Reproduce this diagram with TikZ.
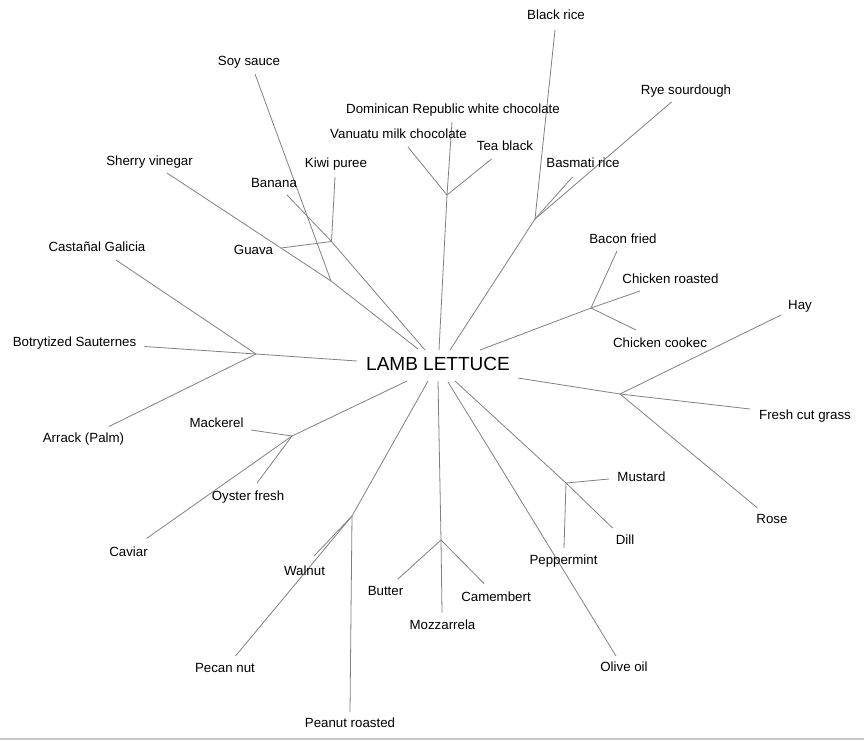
\documentclass[tikz,border=0pt]{standalone}
\usepackage{fontspec}
\setmainfont{Liberation Sans}
\usepackage{tikz}
\tikzset{
	branch/.style={line width=0.8pt, color=black!50},
	food/.style={inner sep=0pt, text height=9.4pt, text depth=0pt, font=\fontsize{13.3}{15}\selectfont},
	rootlabel/.style={inner sep=0pt, text height=13.6pt, text depth=0pt, font=\fontsize{19}{22}\selectfont}
}

\begin{document}
\begin{tikzpicture}[x=1pt, y=-1pt]
			%%%%% START %%%%%
			\useasboundingbox (0, 0) rectangle (864, 740);
			\draw[line width=1.5pt, color=black!22] (0, 739) -- (864, 739);
			
			\node[rootlabel] (lamb) at (438, 364) {LAMB LETTUCE};
			
			% ends round the root label
			\coordinate (rA) at (418, 349);
			\coordinate (rB) at (425, 350);
			\coordinate (rC) at (439, 350);
			\coordinate (rD) at (450, 350);
			\coordinate (rE) at (480, 350);
			\coordinate (rF) at (518, 378);
			\coordinate (rG) at (357, 361);
			\coordinate (rH) at (407, 381);
			\coordinate (rI) at (428, 381);
			\coordinate (rJ) at (438, 381);
			\coordinate (rK) at (448, 382);
			\coordinate (rL) at (455, 381);
			
			% inner forks
			\coordinate (soyfork) at (331, 281);
			\coordinate (fruitfork) at (331.5, 241.5);
			\coordinate (chocfork) at (447, 195);
			\coordinate (ricefork) at (535, 219);
			\coordinate (meatfork) at (591, 308);
			\coordinate (grassfork) at (620, 394);
			\coordinate (winefork) at (256, 354);
			\coordinate (fishfork) at (292, 436);
			\coordinate (nutfork) at (352, 516);
			\coordinate (cheesefork) at (441, 540);
			\coordinate (oilfork) at (493, 455);
			\coordinate (herbfork) at (566, 483);
			
			% free ends of the leaves
			\coordinate (soy) at (255, 74);
			\coordinate (sherry) at (167, 173);
			\coordinate (banana) at (287, 195);
			\coordinate (kiwi) at (335, 177);
			\coordinate (guava) at (281, 248);
			\coordinate (dominican) at (452, 122);
			\coordinate (vanuatu) at (408, 147);
			\coordinate (tea) at (491.5, 159);
			\coordinate (blackrice) at (555, 30);
			\coordinate (basmati) at (572.5, 177);
			\coordinate (rye) at (671.5, 102);
			\coordinate (bacon) at (617, 251);
			\coordinate (chroast) at (640, 291);
			\coordinate (chcook) at (636, 330);
			\coordinate (hay) at (781, 315);
			\coordinate (grass) at (750, 409);
			\coordinate (rose) at (757.5, 508);
			\coordinate (castanal) at (116, 260);
			\coordinate (botry) at (144.5, 346.5);
			\coordinate (arrack) at (109, 426.5);
			\coordinate (mackerel) at (251, 430);
			\coordinate (oyster) at (257, 483);
			\coordinate (caviar) at (146.5, 538.5);
			\coordinate (walnut) at (314, 556);
			\coordinate (pecan) at (235.5, 656);
			\coordinate (peanut) at (350, 712);
			\coordinate (butter) at (398, 579);
			\coordinate (mozz) at (442, 612.5);
			\coordinate (camembert) at (484, 583.5);
			\coordinate (olive) at (616, 656);
			\coordinate (mustard) at (609, 479);
			\coordinate (dill) at (612.5, 528);
			\coordinate (pepper) at (564, 548);
			
			% branches
			\draw[branch] (rA) -- (soyfork);
			\draw[branch] (soyfork) -- (soy);
			\draw[branch] (soyfork) -- (sherry);
			
			\draw[branch] (rB) -- (fruitfork);
			\draw[branch] (fruitfork) -- (banana);
			\draw[branch] (fruitfork) -- (kiwi);
			\draw[branch] (fruitfork) -- (guava);
			
			\draw[branch] (rC) -- (chocfork);
			\draw[branch] (chocfork) -- (dominican);
			\draw[branch] (chocfork) -- (vanuatu);
			\draw[branch] (chocfork) -- (tea);
			
			\draw[branch] (rD) -- (ricefork);
			\draw[branch] (ricefork) -- (blackrice);
			\draw[branch] (ricefork) -- (basmati);
			\draw[branch] (ricefork) -- (rye);
			
			\draw[branch] (rE) -- (meatfork);
			\draw[branch] (meatfork) -- (bacon);
			\draw[branch] (meatfork) -- (chroast);
			\draw[branch] (meatfork) -- (chcook);
			
			\draw[branch] (rF) -- (grassfork);
			\draw[branch] (grassfork) -- (hay);
			\draw[branch] (grassfork) -- (grass);
			\draw[branch] (grassfork) -- (rose);
			
			\draw[branch] (rG) -- (winefork);
			\draw[branch] (winefork) -- (castanal);
			\draw[branch] (winefork) -- (botry);
			\draw[branch] (winefork) -- (arrack);
			
			\draw[branch] (rH) -- (fishfork);
			\draw[branch] (fishfork) -- (mackerel);
			\draw[branch] (fishfork) -- (oyster);
			\draw[branch] (fishfork) -- (caviar);
			
			\draw[branch] (rI) -- (nutfork);
			\draw[branch] (nutfork) -- (walnut);
			\draw[branch] (nutfork) -- (pecan);
			\draw[branch] (nutfork) -- (peanut);
			
			\draw[branch] (rJ) -- (cheesefork);
			\draw[branch] (cheesefork) -- (butter);
			\draw[branch] (cheesefork) -- (mozz);
			\draw[branch] (cheesefork) -- (camembert);
			
			\draw[branch] (rK) -- (oilfork);
			\draw[branch] (oilfork) -- (olive);
			
			\draw[branch] (rL) -- (herbfork);
			\draw[branch] (herbfork) -- (mustard);
			\draw[branch] (herbfork) -- (dill);
			\draw[branch] (herbfork) -- (pepper);
			
			% labels
			\node[food] (soyL) at (249, 61) {Soy sauce};
			\node[food] (sherryL) at (149.5, 161) {Sherry vinegar};
			\node[food] (bananaL) at (274, 183) {Banana};
			\node[food] (kiwiL) at (336, 163) {Kiwi puree};
			\node[food] (guavaL) at (253.5, 250) {Guava};
			\node[food] (dominicanL) at (453, 109) {Dominican Republic white chocolate};
			\node[food] (vanuatuL) at (398.5, 134) {Vanuatu milk chocolate};
			\node[food] (teaL) at (505, 145.5) {Tea black};
			\node[food] (blackriceL) at (556, 15) {Black rice};
			\node[food] (basmatiL) at (583, 163) {Basmati rice};
			\node[food] (ryeL) at (686, 90) {Rye sourdough};
			\node[food] (baconL) at (623, 238.5) {Bacon fried};
			\node[food] (chroastL) at (670.5, 278.5) {Chicken roasted};
			\node[food] (chcookL) at (660, 342.5) {Chicken cookec};
			\node[food] (hayL) at (800, 304.5) {Hay};
			\node[food] (grassL) at (805, 415) {Fresh cut grass};
			\node[food] (roseL) at (772, 519) {Rose};
			\node[food] (castanalL) at (97, 246.5) {Castañal Galicia};
			\node[food] (botryL) at (74.5, 341.5) {Botrytized Sauternes};
			\node[food] (arrackL) at (83.5, 438) {Arrack (Palm)};
			\node[food] (mackerelL) at (216.5, 423) {Mackerel};
			\node[food] (oysterL) at (248, 495.5) {Oyster fresh};
			\node[food] (caviarL) at (128.5, 551.5) {Caviar};
			\node[food] (walnutL) at (304.5, 570.5) {Walnut};
			\node[food] (pecanL) at (225, 668) {Pecan nut};
			\node[food] (peanutL) at (350, 723) {Peanut roasted};
			\node[food] (butterL) at (385.5, 591) {Butter};
			\node[food] (mozzL) at (442.5, 624.5) {Mozzarrela};
			\node[food] (camembertL) at (496, 597) {Camembert};
			\node[food] (oliveL) at (624, 667) {Olive oil};
			\node[food] (mustardL) at (641.5, 476.5) {Mustard};
			\node[food] (dillL) at (625, 540) {Dill};
			\node[food] (pepperL) at (563.5, 560) {Peppermint};
			
			%%%%% END %%%%%
\end{tikzpicture}
\end{document}
